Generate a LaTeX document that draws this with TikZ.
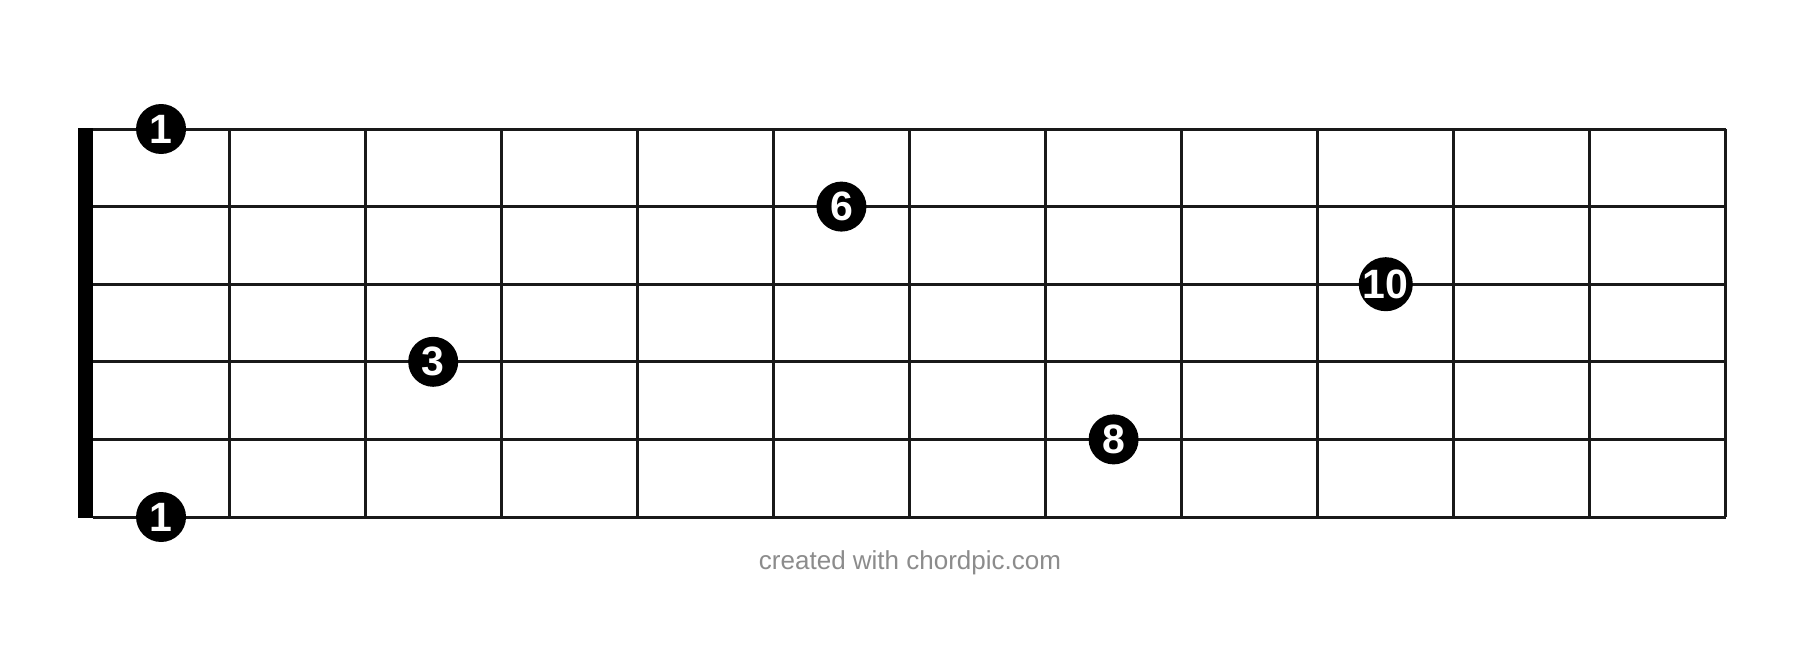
\documentclass[tikz,border=0pt]{standalone}
\usepackage{fontspec}
\setmainfont{Liberation Sans}
\definecolor{credit}{RGB}{140,140,140}
\begin{document}
\begin{tikzpicture}[x=0.5pt,y=-0.5pt,
  gridline/.style={line width=1.5pt,black!90},
  finger/.style={circle,fill=black,inner sep=0pt,minimum size=25pt,text=white,font=\fontsize{20.5}{20.5}\selectfont\bfseries},
  creditlabel/.style={text=credit,font=\fontsize{13}{14}\selectfont}]
\useasboundingbox[fill=white] (0,0) rectangle (1800,648);
% strings
\foreach \s in {0,...,5}
  \draw[gridline] (93,{129+\s*77.6}) -- (1726,{129+\s*77.6});
% frets
\foreach \f in {1,...,12}
  \draw[gridline] ({93+\f*136.08},129) -- ({93+\f*136.08},517);
% nut
\fill[black] (78,128) rectangle (93,518);
% finger dots
\node[finger] (d1a) at ({93+0.5*136.08},129) {1};
\node[finger] (d1b) at ({93+0.5*136.08},517) {1};
\node[finger] (d6) at ({93+5.5*136.08},{129+1*77.6}) {6};
\node[finger] (d10) at ({93+9.5*136.08},{129+2*77.6}) {10};
\node[finger] (d3) at ({93+2.5*136.08},{129+3*77.6}) {3};
\node[finger] (d8) at ({93+7.5*136.08},{129+4*77.6}) {8};
\node[creditlabel] (credit) at (910,563) {created with chordpic.com};
\end{tikzpicture}
\end{document}
